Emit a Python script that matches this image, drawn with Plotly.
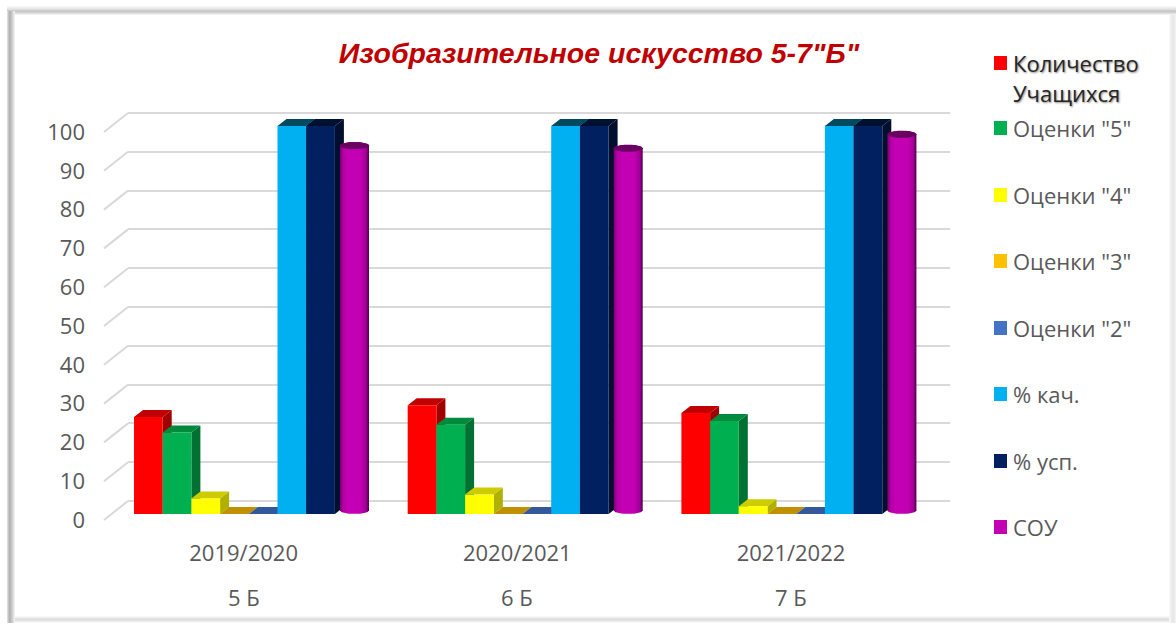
import math
import plotly.graph_objects as go

TITLE = 'Изобразительное искусство 5-7"Б"'
YEARS = ["2019/2020", "2020/2021", "2021/2022"]
CLASSES = ["5 Б", "6 Б", "7 Б"]
Y_TICKS = [0, 10, 20, 30, 40, 50, 60, 70, 80, 90, 100]

kolichestvo = [25, 28, 26]
otsenki_5 = [21, 23, 24]
otsenki_4 = [4, 5, 2]
otsenki_3 = [0, 0, 0]
otsenki_2 = [0, 0, 0]
kachestvo = [100, 100, 100]
uspevaemost = [100, 100, 100]
sou = [94, 93.3, 96.9]

names = ['Количество', 'Оценки "5"', 'Оценки "4"', 'Оценки "3"', 'Оценки "2"', '% кач.', '% усп.', 'СОУ']
box_series = [kolichestvo, otsenki_5, otsenki_4, otsenki_3, otsenki_2, kachestvo, uspevaemost]
front = ["#ff0000", "#00b050", "#ffff00", "#ffc000", "#4472c4", "#00b0f0", "#002060", "#c400b4"]
top = ["#c00000", "#008a3e", "#cccc00", "#c09000", "#34589c", "#004a60", "#001030"]
side = ["#a00000", "#007033", "#b0b000", "#a07800", "#2a4a80", "#003f52", "#000f2e"]

W, H = 1176, 625
PX_Y = 3.88       # pixels per value unit
PX_G = 273.7      # pixels per group
X0 = 243.6        # pixel of group 0
BASE = 514
WALL_UP = 13 / PX_Y    # rise of the back wall over the bar baseline, value units
bar_w = 28.7 / PX_G
start = (134 - X0) / PX_G
dx, dy = 9 / PX_G, 7 / PX_Y

fig = go.Figure()

# empty trace that keeps the wall subplot (its gridlines and tick labels) alive
fig.add_trace(go.Scatter(x=[0, 1], y=[0, 100], mode="lines", line=dict(width=0), opacity=0,
                         hoverinfo="skip", xaxis="x", yaxis="y"))

# wall gridlines come from the y axis of the x/y subplot; floor diagonals on x2/y2
wall_left = (128 - X0) / PX_G
diag_left = (104 - X0) / PX_G
fig.add_trace(go.Scatter(
    x=[v for t in Y_TICKS for v in (diag_left, wall_left, None)],
    y=[v for t in Y_TICKS for v in (t + WALL_UP - 19 / PX_Y, t + WALL_UP, None)],
    mode="lines", line=dict(color="#d9d9d9", width=2),
    hoverinfo="skip", xaxis="x2", yaxis="y2"))

# depth faces of the boxes (below the native bars)
for i, vals in enumerate(box_series):
    left = start + i * bar_w
    tx, ty, sx, sy = [], [], [], []
    for g, v in enumerate(vals):
        a, b = g + left, g + left + bar_w
        tx += [a, b, b + dx, a + dx, a, None]
        ty += [v, v, v + dy, v + dy, v, None]
        sx += [b, b + dx, b + dx, b, b, None]
        sy += [0, dy, v + dy, v, 0, None]
    fig.add_trace(go.Scatter(x=sx, y=sy, mode="lines", line=dict(width=0), fill="toself",
                             fillcolor=side[i], hoverinfo="skip", xaxis="x2", yaxis="y2"))
    fig.add_trace(go.Scatter(x=tx, y=ty, mode="lines", line=dict(width=0), fill="toself",
                             fillcolor=top[i], hoverinfo="skip", xaxis="x2", yaxis="y2"))

# front faces
for i, vals in enumerate(box_series):
    fig.add_trace(go.Bar(x=[0, 1, 2], y=vals, name=names[i], width=bar_w, offset=start + i * bar_w,
                         marker=dict(color=front[i], line=dict(width=0)), xaxis="x3", yaxis="y3"))

# cylinder series
N = 24
rx = 14.5 / PX_G
ry = 3.7 / PX_Y
c_off = (354.5 - 134) / PX_G + start
cos_t = [math.cos(math.pi * k / N) for k in range(N + 1)]
sin_t = [math.sin(math.pi * k / N) for k in range(N + 1)]
for g, v in enumerate(sou):
    c = g + c_off
    y_b, y_t = ry, ry + v
    bx = [c + rx * q for q in cos_t]
    by = [y_b - ry * s for s in sin_t]
    ux = [c - rx * q for q in cos_t]
    uy = [y_t + ry * s for s in sin_t]
    fig.add_trace(go.Scatter(
        x=bx + ux + bx[:1], y=by + uy + by[:1], mode="lines", line=dict(width=0), fill="toself",
        fillgradient=dict(type="horizontal", colorscale=[[0, "#7a006f"], [0.12, "#b400a6"], [0.3, "#c400b4"],
                                                        [0.7, "#c400b4"], [0.9, "#a00094"], [1, "#4a0044"]]),
        name=names[7], hoverinfo="skip", xaxis="x3", yaxis="y3"))
    ex = [c + rx * q for q in cos_t] + [c - rx * q for q in cos_t]
    ey = [y_t + ry * s for s in sin_t] + [y_t - ry * s for s in sin_t]
    fig.add_trace(go.Scatter(x=ex, y=ey, mode="lines", line=dict(width=0), fill="toself",
                             fillcolor="#6a0060", hoverinfo="skip", xaxis="x3", yaxis="y3"))

full_x = [(0 - X0) / PX_G, (W - X0) / PX_G]
hidden = dict(visible=False, fixedrange=True, automargin=False)

TXT = "#595959"
FONT = "Open Sans"
FS = 22
annotations = []
shapes = []


def strip(x0, y0, x1, y1, col):
    shapes.append(dict(type="rect", xref="paper", yref="paper", x0=x0 / W, x1=x1 / W,
                       y0=1 - y0 / H, y1=1 - y1 / H, fillcolor=col, line=dict(width=0), layer="below"))


# soft bevelled frame, drawn as one-pixel strips
for k, col in enumerate(["#f6f6f6", "#f0f0f0", "#e8e8e8", "#e0e0e0", "#cccccc", "#c8c8c8", "#d2d2d2", "#e0e0e0", "#f2f2f2"]):
    strip(7, 6 + k, W, 7 + k, col)
for k, col in enumerate(["#f8f8f8", "#eeeeee", "#e4e4e4", "#dddddd", "#e2e2e2", "#eeeeee", "#f8f8f8"]):
    strip(7, 616 + k, W, 617 + k, col)
for k, col in enumerate(["#f8f8f8", "#f2f2f2", "#ececec", "#e8e8e8", "#e8e8e8", "#ececec", "#f2f2f2"]):
    strip(1169 + k, 15, 1170 + k, 623, col)
for k, col in enumerate(["#dddddd", "#c4c4c4", "#b4b4b4", "#b8b8b8", "#c4c4c4", "#d2d2d2", "#e0e0e0", "#f0f0f0"]):
    strip(7 + k, 11, 8 + k, 623, col)

# legend column
legend_y = [63, 128, 195, 261, 328, 394, 461, 527]
for nm, col, py in zip(names, front, legend_y):
    shapes.append(dict(type="rect", xref="paper", yref="paper", x0=994 / W, x1=1007 / W,
                       y0=1 - (py - 7) / H, y1=1 - (py + 7) / H, fillcolor=col, line=dict(width=0)))
    first = nm == names[0]
    annotations.append(dict(text=nm, xref="paper", yref="paper", x=1011 / W, y=1 - py / H, xanchor="left",
                            yanchor="middle", showarrow=False,
                            font=dict(family=FONT, size=FS, color="#262626" if first else TXT,
                                      shadow="1px 1px 2px #888888" if first else "none")))
annotations.append(dict(text="Учащихся", xref="paper", yref="paper", x=1011 / W, y=1 - 93 / H, xanchor="left",
                        yanchor="middle", showarrow=False,
                        font=dict(family=FONT, size=FS, color="#262626", shadow="1px 1px 2px #888888")))
# second row of category labels
for g, lab in enumerate(CLASSES):
    annotations.append(dict(text=lab, xref="x3", yref="paper", x=g, y=1 - 597 / H, xanchor="center",
                            yanchor="middle", showarrow=False, font=dict(family=FONT, size=FS, color=TXT)))

fig.update_layout(
    width=W, height=H, autosize=False, showlegend=False, barmode="overlay",
    margin=dict(l=0, r=0, t=0, b=0, pad=0), paper_bgcolor="white", plot_bgcolor="rgba(0,0,0,0)",
    title=dict(text=TITLE, x=599 / W, xanchor="center", y=1 - 53 / H, yanchor="middle",
               font=dict(family="Liberation Sans", size=28.5, color="#c00000", weight="bold", style="italic")),
    xaxis=dict(domain=[128 / W, 950 / W], range=[0, 1], **hidden),
    yaxis=dict(domain=[(H - 511) / H, (H - 103) / H], range=[-10 / PX_Y, 100 + 10 / PX_Y],
               tickvals=Y_TICKS, showgrid=True,
               gridcolor="#d9d9d9", gridwidth=2, zeroline=False, showline=False, ticks="", automargin=False,
               ticklabelstandoff=42, ticklabelshift=19, fixedrange=True,
               tickfont=dict(family=FONT, size=FS, color=TXT)),
    xaxis2=dict(domain=[0, 1], range=full_x, anchor="y2", **hidden),
    yaxis2=dict(domain=[0, 1], range=[(BASE - H) / PX_Y, BASE / PX_Y], anchor="x2", **hidden),
    xaxis3=dict(domain=[0, 1], range=full_x, anchor="y3", tickvals=[0, 1, 2], ticktext=YEARS, showgrid=False,
                zeroline=False, showline=False, ticks="", ticklabelstandoff=24, fixedrange=True, automargin=False,
                tickfont=dict(family=FONT, size=FS, color=TXT)),
    yaxis3=dict(domain=[(H - BASE) / H, 1], range=[0, BASE / PX_Y], anchor="x3", **hidden),
    shapes=shapes, annotations=annotations,
)

fig.write_html("out.html", config=dict(displayModeBar=False),
               post_script="document.body.style.margin='0';window.dispatchEvent(new Event('resize'));")
